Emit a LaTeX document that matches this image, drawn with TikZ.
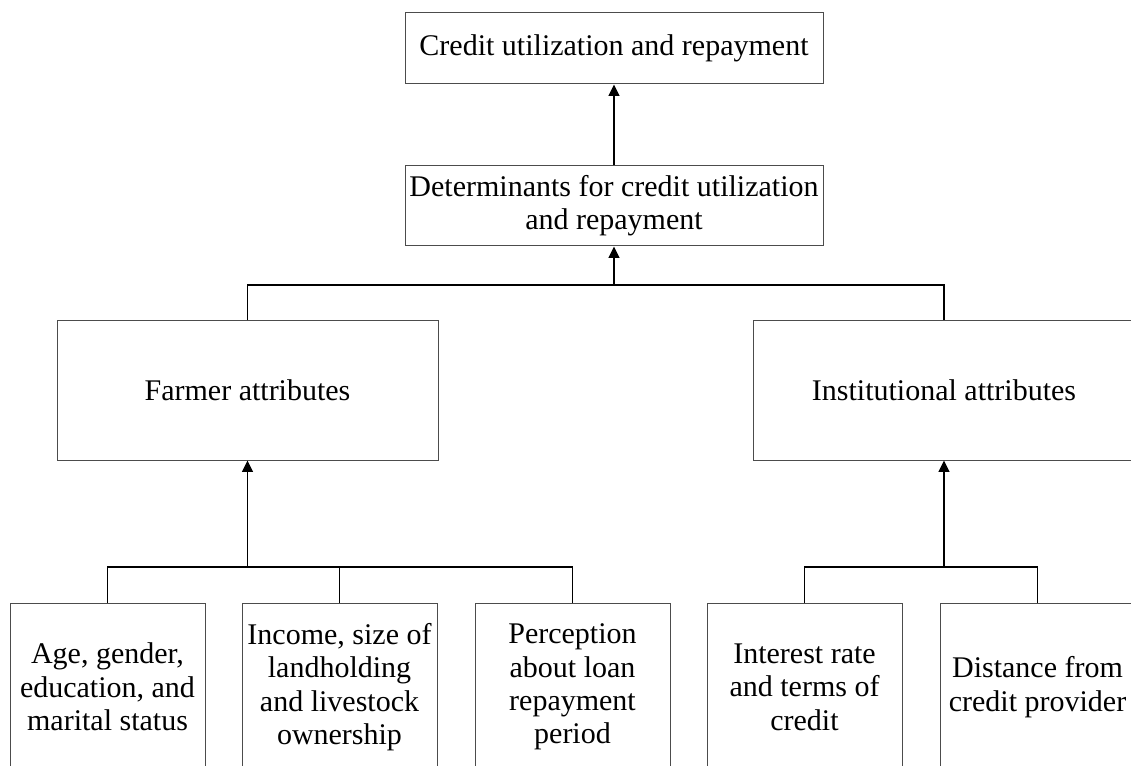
\documentclass[tikz,border=0pt]{standalone}
\usepackage{fontspec}
\setmainfont{Liberation Serif}
\usetikzlibrary{arrows.meta}
\begin{document}
\begin{tikzpicture}[x=0.75pt,y=-0.75pt,
  box/.style={draw=black!70,line width=0.75pt,inner sep=0pt,align=center,
    font=\fontsize{22.5}{25}\selectfont},
  link/.style={draw=black,line width=1.3pt},
  uparrow/.style={link,-{Triangle[width=8pt,length=8.5pt]}}]
\useasboundingbox (0,0) rectangle (1131,766);
\clip (0,0) rectangle (1131,766);

% outcome and its determinants
\node[box,minimum width=313.5pt,minimum height=53.25pt] (top) at (614,48.5)
  {Credit utilization and repayment};
\node[box,minimum width=313.5pt,minimum height=60pt] (det) at (614,206)
  {Determinants for credit utilization\\and repayment};

% attribute groups
\node[box,minimum width=285.75pt,minimum height=104.25pt] (farmer) at (247.5,390.5)
  {Farmer attributes};
\node[box,minimum width=286.5pt,minimum height=104.25pt] (inst) at (944,390.5)
  {Institutional attributes};

% individual factors
\tikzset{factor/.style={box,minimum width=146.25pt,minimum height=126pt}}
\node[factor] (f1) at (107.5,687) {Age, gender,\\education, and\\marital status};
\node[factor] (f2) at (339.5,687) {Income, size of\\landholding\\and livestock\\ownership};
\node[factor] (f3) at (572.5,687) {Perception\\about loan\\repayment\\period};
\node[factor] (i1) at (804.5,687) {Interest rate\\and terms of\\credit};
\node[factor] (i2) at (1037.5,687) {Distance from\\credit provider};

% connectors
\draw[uparrow] (det.north) -- (top.south);

\coordinate (jmid) at (614,285);
\draw[uparrow] (jmid) -- (det.south);
\draw[link] (farmer.north) |- (jmid) -| (inst.north);

\coordinate (jfarm) at (247.5,567);
\draw[uparrow] (jfarm) -- (farmer.south);
\draw[link] (f1.north) |- (jfarm) -| (f3.north);
\draw[link] (f2.north) -- (f2.north |- jfarm);

\coordinate (jinst) at (944,567);
\draw[uparrow] (jinst) -- (inst.south);
\draw[link] (i1.north) |- (jinst) -| (i2.north);
\end{tikzpicture}
\end{document}
